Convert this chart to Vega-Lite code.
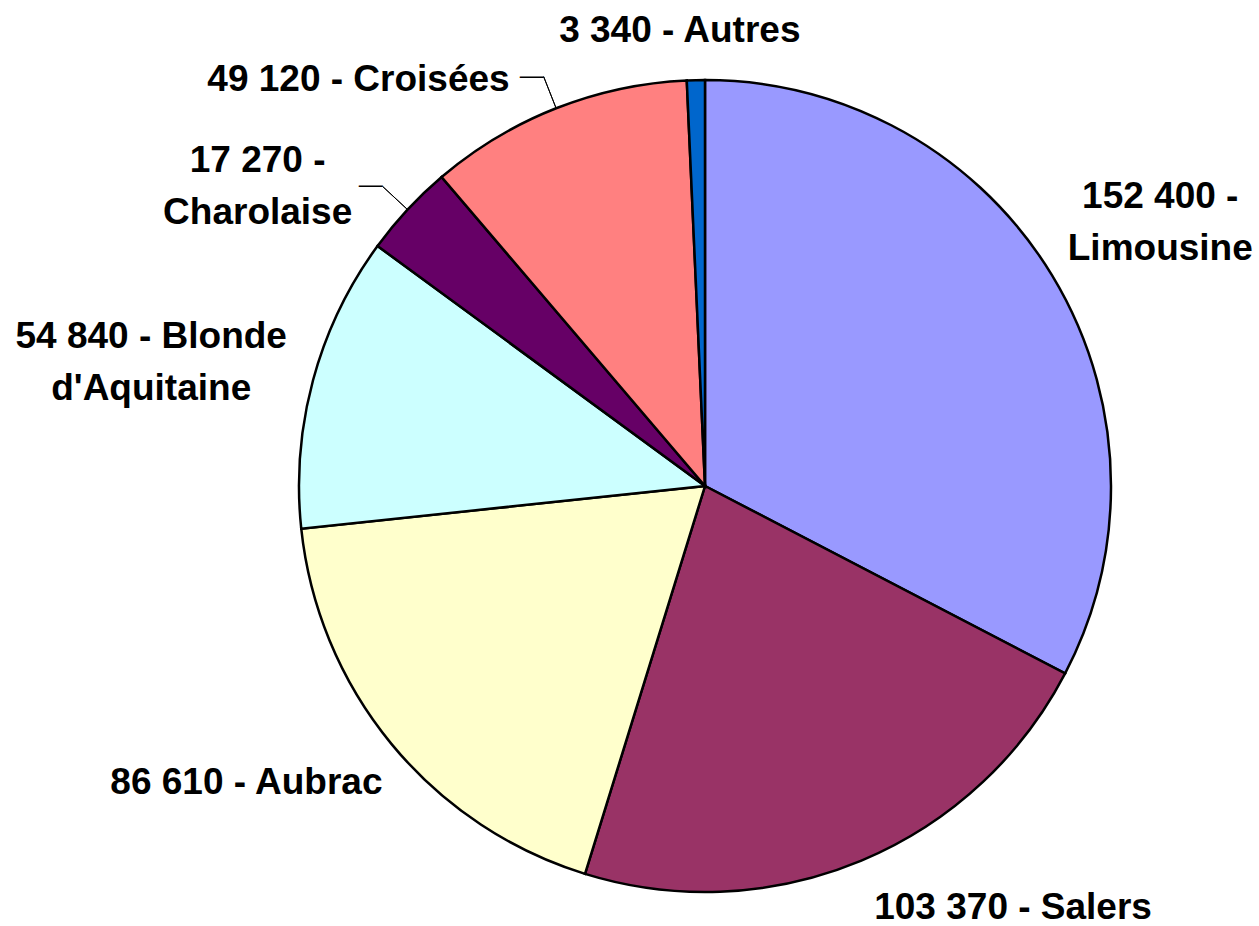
{
  "$schema": "https://vega.github.io/schema/vega-lite/v6.json",
  "autosize": {"type": "none"},
  "width": 812,
  "height": 812,
  "padding": {"left": 299, "top": 80, "right": 148, "bottom": 34},
  "background": "white",
  "config": {
    "view": {"stroke": null},
    "text": {"font": "Liberation Sans", "fontSize": 37, "fontWeight": "bold", "lineHeight": 52, "lineBreak": "\n", "color": "black"}
  },
  "data": {
    "values": [
      {"breed": "Limousine", "value": 152400, "rank": 1, "label": "152 400 -\nLimousine"},
      {"breed": "Salers", "value": 103370, "rank": 2, "label": "103 370 - Salers"},
      {"breed": "Aubrac", "value": 86610, "rank": 3, "label": "86 610 - Aubrac"},
      {"breed": "Blonde d'Aquitaine", "value": 54840, "rank": 4, "label": "54 840 - Blonde\nd'Aquitaine"},
      {"breed": "Charolaise", "value": 17270, "rank": 5, "label": "17 270 -\nCharolaise"},
      {"breed": "Croisées", "value": 49120, "rank": 6, "label": "49 120 - Croisées"},
      {"breed": "Autres", "value": 3340, "rank": 7, "label": "3 340 - Autres"}
    ]
  },
  "encoding": {
    "theta": {"field": "value", "type": "quantitative", "stack": true},
    "order": {"field": "rank", "type": "quantitative", "sort": "ascending"},
    "detail": {"field": "breed", "type": "nominal"}
  },
  "layer": [
    {
      "mark": {"type": "arc", "stroke": "black", "strokeWidth": 2.5},
      "encoding": {
        "color": {
          "field": "breed", "type": "nominal", "legend": null,
          "scale": {
            "domain": ["Limousine", "Salers", "Aubrac", "Blonde d'Aquitaine", "Charolaise", "Croisées", "Autres"],
            "range": ["#9999FF", "#993366", "#FFFFCC", "#CCFFFF", "#660066", "#FF8080", "#0066CC"]
          }
        }
      }
    },
    {
      "mark": {"type": "arc", "radius": 440, "radius2": 406, "padAngle": 1.5, "fillOpacity": 0, "stroke": "black", "strokeWidth": 1},
      "encoding": {
        "strokeOpacity": {"condition": {"test": "datum.breed === 'Croisées' || datum.breed === 'Charolaise'", "value": 1}, "value": 0}
      }
    },
    {
      "mark": {"type": "text", "radius": 440, "align": "right", "baseline": "middle", "fontWeight": "normal", "fontSize": 24, "dy": -1},
      "encoding": {"text": {"condition": {"test": "datum.breed === 'Croisées' || datum.breed === 'Charolaise'", "value": "—"}, "value": ""}}
    },
    {
      "mark": {"type": "text", "radius": 515, "align": "center", "baseline": "middle", "dx": 15, "dy": -22},
      "encoding": {"text": {"condition": {"test": "datum.breed === 'Limousine'", "field": "label"}, "value": ""}}
    },
    {
      "mark": {"type": "text", "radius": 460, "align": "left", "baseline": "middle", "dx": -8, "dy": -2},
      "encoding": {"text": {"condition": {"test": "datum.breed === 'Salers'", "field": "label"}, "value": ""}}
    },
    {
      "mark": {"type": "text", "radius": 468, "align": "right", "baseline": "middle", "dx": 39, "dy": 0},
      "encoding": {"text": {"condition": {"test": "datum.breed === 'Aubrac'", "field": "label"}, "value": ""}}
    },
    {
      "mark": {"type": "text", "radius": 470, "align": "center", "baseline": "middle", "dx": -100, "dy": -27},
      "encoding": {"text": {"condition": {"test": "datum.breed === \"Blonde d'Aquitaine\"", "field": "label"}, "value": ""}}
    },
    {
      "mark": {"type": "text", "radius": 440, "align": "center", "baseline": "middle", "dx": -125, "dy": -25},
      "encoding": {"text": {"condition": {"test": "datum.breed === 'Charolaise'", "field": "label"}, "value": ""}}
    },
    {
      "mark": {"type": "text", "radius": 440, "align": "right", "baseline": "middle", "dx": -34, "dy": 3},
      "encoding": {"text": {"condition": {"test": "datum.breed === 'Croisées'", "field": "label"}, "value": ""}}
    },
    {
      "mark": {"type": "text", "radius": 454, "align": "center", "baseline": "middle", "dx": -15, "dy": -1},
      "encoding": {"text": {"condition": {"test": "datum.breed === 'Autres'", "field": "label"}, "value": ""}}
    }
  ]
}
